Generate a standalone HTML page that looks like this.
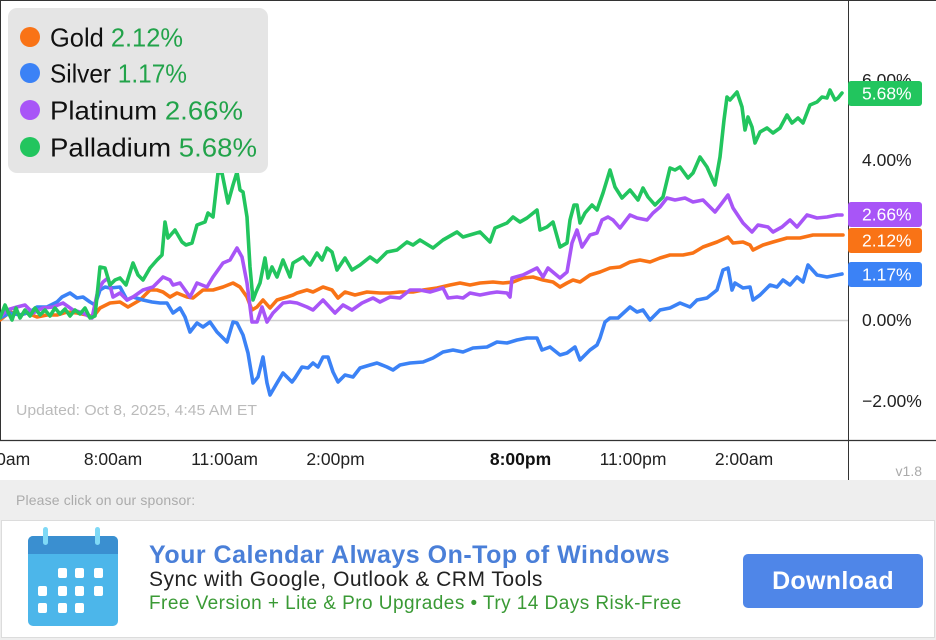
<!DOCTYPE html>
<html>
<head>
<meta charset="utf-8">
<style>
  html,body{margin:0;padding:0;}
  body{width:936px;height:640px;overflow:hidden;background:#fff;position:relative;font-family:"Liberation Sans",Arial,sans-serif;}
  svg{position:absolute;left:0;top:0;display:block;}
  .sp{position:absolute;left:0;top:480px;width:936px;height:160px;background:#eeeeee;}
  .sp .note{position:absolute;left:16px;top:12px;font-size:14px;color:#ababab;letter-spacing:0.15px;}
  .box{position:absolute;left:1px;top:40px;width:932px;height:116px;background:#fff;border:1px solid #dcdcdc;}
  .t1{position:absolute;left:147px;top:20px;font-size:25px;font-weight:bold;color:#4a7fd8;white-space:nowrap;letter-spacing:0.5px;}
  .t2{position:absolute;left:147px;top:47px;font-size:21px;color:#222;white-space:nowrap;letter-spacing:0.5px;}
  .t3{position:absolute;left:147px;top:72px;font-size:19px;color:#3a9a35;white-space:nowrap;letter-spacing:0.45px;}
  .btn{position:absolute;left:741px;top:33px;width:180px;height:54px;background:#4f86e8;border-radius:5px;color:#fff;font-size:25px;font-weight:bold;text-align:center;line-height:54px;letter-spacing:0.3px;}
</style>
</head>
<body>
<svg width="936" height="480" viewBox="0 0 936 480" xmlns="http://www.w3.org/2000/svg">
  <!-- frame -->
  <line x1="0" y1="0.5" x2="936" y2="0.5" stroke="#333" stroke-width="1"/>
  <line x1="0.5" y1="0" x2="0.5" y2="440" stroke="#333" stroke-width="1"/>
  <line x1="0" y1="440.5" x2="936" y2="440.5" stroke="#333" stroke-width="1.2"/>
  <line x1="848.5" y1="0" x2="848.5" y2="480" stroke="#333" stroke-width="1"/>
  <!-- zero line -->
  <line x1="1" y1="320.5" x2="848" y2="320.5" stroke="#cfcfcf" stroke-width="1.5"/>

  <g fill="none" stroke-width="3.6" stroke-linejoin="round" stroke-linecap="round">
    <polyline stroke="#f97316" points="0,320 10,312 20,315 27,313 37,317 47,315 57,315 67,312 77,313 87,315 93,317 100,308 110,303 120,302 128,307 140,300 150,290 157,290 163,292 170,297 177,293 187,297 193,298 203,290 213,290 223,287 233,283 240,287 247,297 252,310 257,307 263,300 270,308 277,300 287,297 293,295 297,293 307,290 313,292 323,287 332,290 338,298 345,292 355,295 367,292 380,293 390,293 400,292 413,292 423,290 437,288 450,285 460,283 470,285 480,283 493,282 503,283 513,282 523,278 533,277 543,280 553,282 560,287 567,283 573,280 580,282 590,275 600,272 610,268 620,267 630,262 640,260 650,262 660,258 670,255 683,255 693,253 703,247 717,242 728,237 733,243 743,242 750,245 753,250 763,245 773,242 787,238 800,238 813,235 827,235 843,235"/>
    <polyline stroke="#3b82f6" points="0,318 10,313 20,315 30,312 37,307 47,307 57,302 62,297 70,293 77,298 83,297 90,302 95,305 100,290 105,287 110,288 120,287 127,300 133,297 143,300 152,302 160,303 167,303 173,313 180,308 185,317 190,332 197,323 203,327 210,322 217,332 227,342 233,322 237,323 243,335 248,353 253,383 258,377 263,357 267,383 270,395 277,383 283,373 292,382 295,378 302,367 308,368 313,363 318,367 323,357 328,357 333,372 338,382 345,375 353,377 360,368 370,365 377,363 387,367 393,370 400,365 410,363 423,362 433,358 443,352 453,350 463,352 473,348 487,347 497,342 507,343 517,340 527,338 537,338 542,350 550,347 560,355 567,353 575,347 580,360 590,350 597,345 600,338 605,322 610,318 618,318 630,307 637,312 643,310 650,320 660,310 670,308 680,303 690,307 697,300 707,298 717,290 723,270 728,268 732,290 735,283 743,288 750,287 753,300 760,295 770,285 777,287 783,280 790,285 797,277 803,282 808,265 817,275 827,277 837,275 842,274"/>
    <polyline stroke="#a855f7" points="0,317 7,310 17,307 25,305 33,313 43,308 53,307 63,303 73,310 83,313 92,318 98,290 103,282 108,278 113,297 120,293 127,300 133,297 143,290 153,287 163,277 170,280 173,285 180,283 190,297 197,283 207,287 213,277 223,263 230,260 237,248 242,257 247,283 252,322 257,322 262,307 267,322 273,313 283,303 290,302 297,303 307,307 313,310 323,300 335,313 343,305 352,310 362,303 373,298 380,302 390,297 400,298 410,290 420,290 430,292 443,288 448,298 457,297 463,298 470,293 480,295 490,293 497,292 507,293 510,297 512,278 523,275 537,268 543,277 548,268 560,278 567,272 572,243 577,230 582,247 590,235 597,233 602,220 608,217 613,220 620,228 630,215 637,218 647,220 653,213 660,207 667,198 675,200 685,198 693,202 703,200 715,212 722,203 728,195 733,208 743,223 752,232 758,225 768,227 773,232 782,227 790,220 797,227 807,215 817,218 827,217 837,215 842,215"/>
    <polyline stroke="#22c55e" points="0,318 5,305 8,312 12,320 16,308 20,318 25,310 30,316 35,308 40,315 45,310 50,316 55,308 60,314 65,309 70,316 75,310 80,314 85,308 90,318 95,316 100,267 105,268 110,285 115,280 120,278 126,285 133,263 138,275 143,280 150,268 157,260 162,255 165,222 168,238 175,230 182,242 186,245 192,243 197,225 205,222 208,213 213,217 218,173 222,173 228,203 233,185 237,172 240,190 243,192 247,217 250,267 253,300 256,292 260,283 265,258 268,278 272,267 277,277 283,260 290,277 293,263 303,257 310,265 317,253 322,260 327,248 332,252 337,270 345,258 352,270 360,265 370,257 377,262 387,252 397,250 407,242 413,245 420,240 433,248 443,240 457,232 463,237 480,232 490,242 495,228 507,223 513,217 520,222 527,218 537,210 540,230 547,227 553,222 560,247 567,243 570,220 574,205 577,205 580,223 585,213 592,205 597,210 603,193 610,170 615,187 622,198 630,190 638,200 643,188 648,197 655,205 663,197 670,168 675,170 680,167 688,178 693,173 700,157 707,167 715,185 720,157 724,120 727,97 730,100 737,92 742,107 745,130 748,117 752,127 755,143 760,132 767,128 773,133 780,128 787,115 792,123 798,118 803,123 810,105 817,102 822,97 827,98 830,90 835,100 838,98 842,93"/>
  </g>

  <!-- legend -->
  <rect x="8" y="8" width="260" height="165" rx="9" fill="#e5e5e5"/>
  <circle cx="30" cy="37" r="10" fill="#f97316"/>
  <circle cx="30" cy="73" r="10" fill="#3b82f6"/>
  <circle cx="30" cy="110" r="10" fill="#a855f7"/>
  <circle cx="30" cy="147" r="10" fill="#22c55e"/>
  <g font-family="Liberation Sans, Arial, sans-serif" font-size="26">
    <text x="50" y="46.5" fill="#111" textLength="133" lengthAdjust="spacingAndGlyphs">Gold <tspan fill="#22a34a">2.12%</tspan></text>
    <text x="50" y="82.5" fill="#111" textLength="137" lengthAdjust="spacingAndGlyphs">Silver <tspan fill="#22a34a">1.17%</tspan></text>
    <text x="50" y="119.5" fill="#111" textLength="193" lengthAdjust="spacingAndGlyphs">Platinum <tspan fill="#22a34a">2.66%</tspan></text>
    <text x="50" y="156.5" fill="#111" textLength="207" lengthAdjust="spacingAndGlyphs">Palladium <tspan fill="#22a34a">5.68%</tspan></text>
  </g>

  <!-- y ticks -->
  <g font-family="Liberation Sans, Arial, sans-serif" font-size="17.5" fill="#222">
    <text x="862" y="86">6.00%</text>
    <text x="862" y="166">4.00%</text>
    <text x="862" y="326">0.00%</text>
    <text x="862" y="407">−2.00%</text>
  </g>

  <!-- badges -->
  <g font-family="Liberation Sans, Arial, sans-serif" font-size="17.5" fill="#fff">
    <rect x="848" y="81" width="74" height="25" rx="3" fill="#22c55e"/>
    <text x="862" y="99.5">5.68%</text>
    <rect x="848" y="202" width="74" height="25" rx="3" fill="#a855f7"/>
    <text x="862" y="220.5">2.66%</text>
    <rect x="848" y="228" width="74" height="25" rx="3" fill="#f97316"/>
    <text x="862" y="246.5">2.12%</text>
    <rect x="848" y="262" width="74" height="25" rx="3" fill="#3b82f6"/>
    <text x="862" y="280.5">1.17%</text>
  </g>

  <text x="16" y="415" font-family="Liberation Sans, Arial, sans-serif" font-size="15" fill="#bbbbbb" textLength="241" lengthAdjust="spacingAndGlyphs">Updated: Oct 8, 2025, 4:45 AM ET</text>

  <!-- x labels -->
  <g font-family="Liberation Sans, Arial, sans-serif" font-size="17.5" fill="#222" text-anchor="middle">
    <text x="1" y="465">5:00am</text>
    <text x="113" y="465">8:00am</text>
    <text x="224.5" y="465">11:00am</text>
    <text x="335.5" y="465">2:00pm</text>
    <text x="520.5" y="465" font-weight="bold" fill="#111">8:00pm</text>
    <text x="633" y="465">11:00pm</text>
    <text x="744" y="465">2:00am</text>
  </g>
  <text x="922" y="476" text-anchor="end" font-family="Liberation Sans, Arial, sans-serif" font-size="14" fill="#aaaaaa">v1.8</text>
</svg>

<div class="sp">
  <div class="note">Please click on our sponsor:</div>
  <div class="box">
    <svg width="100" height="110" viewBox="0 0 100 110" style="left:18px;top:4px;" xmlns="http://www.w3.org/2000/svg">
      <rect x="8" y="11" width="90" height="90" rx="5" fill="#4cb6ea"/>
      <path d="M13 11 H93 A5 5 0 0 1 98 16 V29 H8 V16 A5 5 0 0 1 13 11 Z" fill="#3a8fd0"/>
      <rect x="23" y="2" width="5" height="18" rx="2.5" fill="#7fd9f6"/>
      <rect x="75" y="2" width="5" height="18" rx="2.5" fill="#7fd9f6"/>
      <g fill="#fff">
        <rect x="38" y="43" width="9" height="10" rx="2"/>
        <rect x="55" y="43" width="9" height="10" rx="2"/>
        <rect x="74" y="43" width="9" height="10" rx="2"/>
        <rect x="18" y="61" width="9" height="10" rx="2"/>
        <rect x="38" y="61" width="9" height="10" rx="2"/>
        <rect x="55" y="61" width="9" height="10" rx="2"/>
        <rect x="74" y="61" width="9" height="10" rx="2"/>
        <rect x="18" y="78" width="9" height="10" rx="2"/>
        <rect x="38" y="78" width="9" height="10" rx="2"/>
        <rect x="55" y="78" width="9" height="10" rx="2"/>
      </g>
    </svg>
    <div class="t1">Your Calendar Always On-Top of Windows</div>
    <div class="t2">Sync with Google, Outlook &amp; CRM Tools</div>
    <div class="t3">Free Version + Lite &amp; Pro Upgrades • Try 14 Days Risk-Free</div>
    <div class="btn">Download</div>
  </div>
</div>
</body>
</html>
